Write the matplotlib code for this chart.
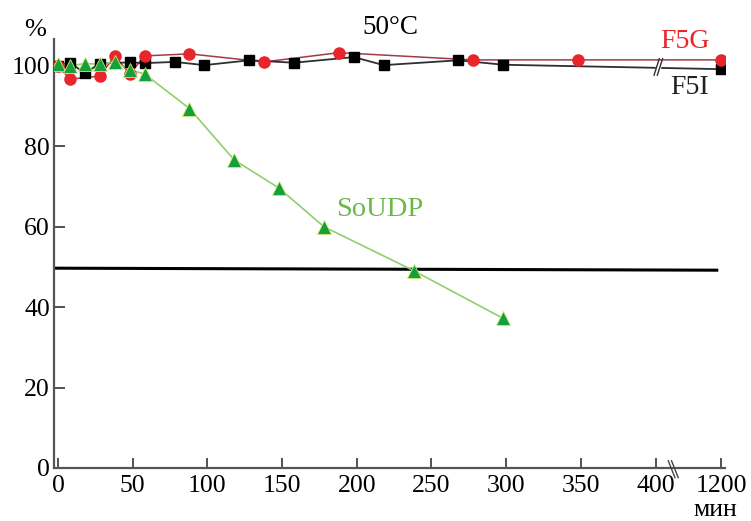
import matplotlib
matplotlib.use("Agg")
import matplotlib.pyplot as plt
import numpy as np

plt.rcParams['font.family'] = ['Liberation Serif', 'DejaVu Serif']

# data (time in min, residual activity in %)
f5g_t = [0, 8, 28, 38, 48, 58, 88, 138, 188, 278, 348, 1200]
f5g_v = [100, 96.7, 97.5, 102.5, 98, 102.5, 103, 101, 103.3, 101.5, 101.5, 101.5]

f5i_t = [0, 8, 18, 28, 48, 58, 78, 98, 128, 158, 198, 218, 268, 298, 1200]
f5i_v = [100, 100.8, 98.2, 100.6, 100.9, 100.7, 101, 100.2, 101.4, 100.8, 102.2, 100.2, 101.4, 100.3, 99.2]

soudp_t = [0, 8, 18, 28, 38, 48, 58, 88, 118, 148, 178, 238, 298]
soudp_v = [100.5, 100, 100.6, 100.4, 101, 99, 98, 89.4, 76.6, 69.6, 60, 49.1, 37.2]

half_t = [-3, 441]
half_v = [49.7, 49.2]

xticks = [0, 50, 100, 150, 200, 250, 300, 350, 400, 1200]


def xmap(t):
    # broken axis: 0..400 linear, 1200 squeezed in after the break
    t = np.asarray(t, dtype=float)
    return np.where(t > 420, 444 + (t - 1200) * 0.01, t)


fig = plt.figure(figsize=(7.51, 5.21), dpi=100)
ax = fig.add_axes([54 / 751, 1 - 468 / 521, 671 / 751, 429 / 521])

ax.plot(xmap(f5g_t), f5g_v, '-', color='#a23a48', lw=1.1, zorder=2)
ax.plot(xmap(f5g_t), f5g_v, 'o', color='#e8252b', ms=8, mec='#e8252b', zorder=4)

ax.plot(xmap(f5i_t), f5i_v, '-', color='#2c3032', lw=1.3, zorder=2)
ax.plot(xmap(f5i_t), f5i_v, 's', color='black', ms=7.5, zorder=3)

ax.plot(xmap(soudp_t), soudp_v, '-', color='#8fcf6d', lw=1.2, zorder=2)
ax.plot(xmap(soudp_t), soudp_v, '^', color='#14a03c', ms=10, mec='#d8e86a', mew=0.6, zorder=5)

ax.plot(half_t, half_v, '-', color='black', lw=2.2, zorder=1)

# break marks on the curves and on the x axis
for dx in (0, 2.2):
    ax.plot([399 + dx, 402.5 + dx], [97.7, 101.8], color='#2c3032', lw=1, zorder=6)
    ax.plot([408.5 + dx, 413 + dx], [1.8, -2.4], color='#444444', lw=1, zorder=6, clip_on=False)
ax.fill_between([400, 403], 99.4, 100.3, color='white', zorder=5)

ax.set_xlim(-2.7, 446.5)
ax.set_ylim(0, 106.7)
ax.set_xticks(xmap(xticks))
ax.set_xticklabels([str(t) for t in xticks])
ax.set_yticks([0, 20, 40, 60, 80, 100])

for s in ('top', 'right'):
    ax.spines[s].set_visible(False)
for s in ('left', 'bottom'):
    ax.spines[s].set_color('#555555')
    ax.spines[s].set_linewidth(1.6)
ax.tick_params(axis='x', direction='in', length=7, width=1.2, color='#333333',
               labelsize=18.5, pad=5)
ax.tick_params(axis='y', direction='in', length=8, width=1.2, color='#333333',
               labelsize=18.5, pad=3)

fig.text(35 / 751, 1 - 30 / 521, '%', fontsize=19, ha='center', va='center')
fig.text(390 / 751, 1 - 28 / 521, '50°C', fontsize=19.5, ha='center', va='center')
fig.text(685 / 751, 1 - 41 / 521, 'F5G', fontsize=20, color='#e8252b', ha='center', va='center')
fig.text(690 / 751, 1 - 88 / 521, 'F5I', fontsize=20, color='#222222', ha='center', va='center')
fig.text(380 / 751, 1 - 210 / 521, 'SoUDP', fontsize=20.5, color='#6ab84a', ha='center', va='center')
fig.text(715 / 751, 1 - 510 / 521, 'мин', fontsize=18.5, ha='center', va='center')

fig.savefig('out.png', dpi=100)
